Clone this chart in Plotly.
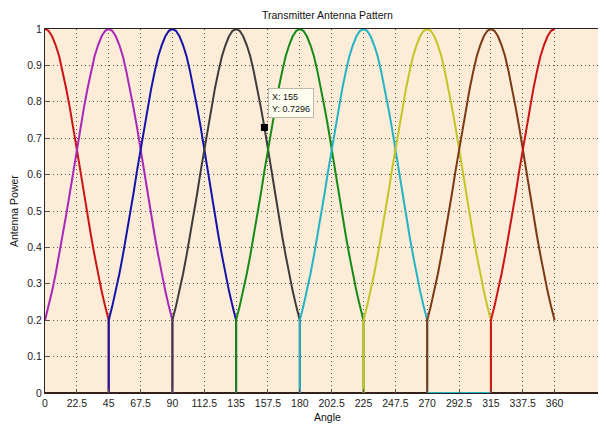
import plotly.graph_objects as go

# ---- data ----
beam_centers = [0, 45, 90, 135, 180, 225, 270, 315, 360]
beam_colors = ["#cc1414", "#a828b8", "#1414a8", "#3c3c3c", "#168a16",
               "#22b4c4", "#c4c424", "#7a3a14", "#cc1414"]
# half-pattern (offset from beam centre, in degrees) and power
half_offsets = [0, 2.5, 5, 7.5, 10, 12.5, 15, 17.5, 20, 22.5,
                25, 27.5, 30, 32.5, 35, 37.5, 40, 42.5, 45]
half_power = [1.0, 0.995, 0.98, 0.956, 0.925, 0.883, 0.836, 0.784, 0.73, 0.669,
              0.61, 0.548, 0.49, 0.432, 0.378, 0.327, 0.28, 0.238, 0.2]
# zero-power tails visible along the x axis (beam centre -> last angle at 0)
zero_tails = {225: 315}
x_ticks = [0, 22.5, 45, 67.5, 90, 112.5, 135, 157.5, 180, 202.5, 225,
           247.5, 270, 292.5, 315, 337.5, 360]
y_ticks = [0, 0.1, 0.2, 0.3, 0.4, 0.5, 0.6, 0.7, 0.8, 0.9, 1]
tip_x, tip_y = 155, 0.7296

full_offsets = [-o for o in half_offsets[::-1]] + half_offsets[1:]
full_power = half_power[::-1] + half_power[1:]

fig = go.Figure()
for c, col in zip(beam_centers, beam_colors):
    xs, ys = [], []
    left = c + full_offsets[0]
    right = c + full_offsets[-1]
    if 0 < left < 360:
        xs.append(left); ys.append(0)
    for o, p in zip(full_offsets, full_power):
        x = c + o
        if 0 <= x <= 360:
            xs.append(x); ys.append(p)
    if 0 < right < 360:
        xs.append(right); ys.append(0)
    if c in zero_tails:
        xs.append(zero_tails[c]); ys.append(0)
    fig.add_trace(go.Scatter(x=xs, y=ys, mode="lines",
                             line=dict(color=col, width=2), showlegend=False,
                             hoverinfo="skip"))

# data tip marker
fig.add_trace(go.Scatter(x=[tip_x], y=[tip_y], mode="markers",
                         marker=dict(symbol="square", size=7, color="black"),
                         showlegend=False, hoverinfo="skip"))

# the page body adds an 8px offset, so the figure is 8px smaller and margins shifted
font = "Liberation Sans, Arial, sans-serif"
fig.update_layout(
    width=598, height=417,
    margin=dict(l=37, r=0, t=21, b=32),
    paper_bgcolor="white", plot_bgcolor="#fcecd8",
    font=dict(family=font, size=10.5, color="#222"),
    showlegend=False,
    xaxis=dict(range=[0, 396.3], tickvals=x_ticks,
               ticktext=[("%g" % v) for v in x_ticks],
               showgrid=True, gridcolor="#555", griddash="1px,3px", gridwidth=1,
               zeroline=False, showline=True, linecolor="#2a2220", linewidth=1,
               mirror=True, ticks="inside", ticklen=4, tickcolor="#555",
               tickfont=dict(size=10.5, color="#222")),
    yaxis=dict(range=[0, 1], tickvals=y_ticks,
               ticktext=[("%g" % v) for v in y_ticks],
               showgrid=True, gridcolor="#555", griddash="1px,3px", gridwidth=1,
               zeroline=False, showline=True, linecolor="#2a2220", linewidth=1,
               mirror=True, ticks="inside", ticklen=4, tickcolor="#555",
               tickfont=dict(size=10.5, color="#222")),
    shapes=[dict(type="line", xref="paper", yref="paper", x0=0, x1=1, y0=0, y1=0,
                 line=dict(color="#3a1f14", width=2), layer="below")],
)

annotations = [
    dict(text="Transmitter Antenna Pattern", xref="paper", yref="paper",
         x=(327 - 45) / 561, y=1 + (29 - 15) / 364, xanchor="center", yanchor="middle",
         showarrow=False, font=dict(size=10.5, color="#111")),
    dict(text="Angle", xref="paper", yref="paper",
         x=(327 - 45) / 561, y=-(417 - 393) / 364, xanchor="center", yanchor="middle",
         showarrow=False, font=dict(size=10.5, color="#111")),
    dict(text="Antenna Power", xref="paper", yref="paper",
         x=-(45 - 14) / 561, y=0.5, xanchor="center", yanchor="middle", textangle=-90,
         showarrow=False, font=dict(size=10.5, color="#111")),
    dict(text="X: 155<br>Y: 0.7296", xref="x", yref="y",
         x=157.4, y=0.838, xanchor="left", yanchor="top", align="left",
         showarrow=False, bgcolor="#fffcf0", bordercolor="#c0b8a8", borderwidth=1,
         borderpad=3, font=dict(size=9, color="#111")),
]
fig.update_layout(annotations=annotations)

fig.write_html("out.html")
